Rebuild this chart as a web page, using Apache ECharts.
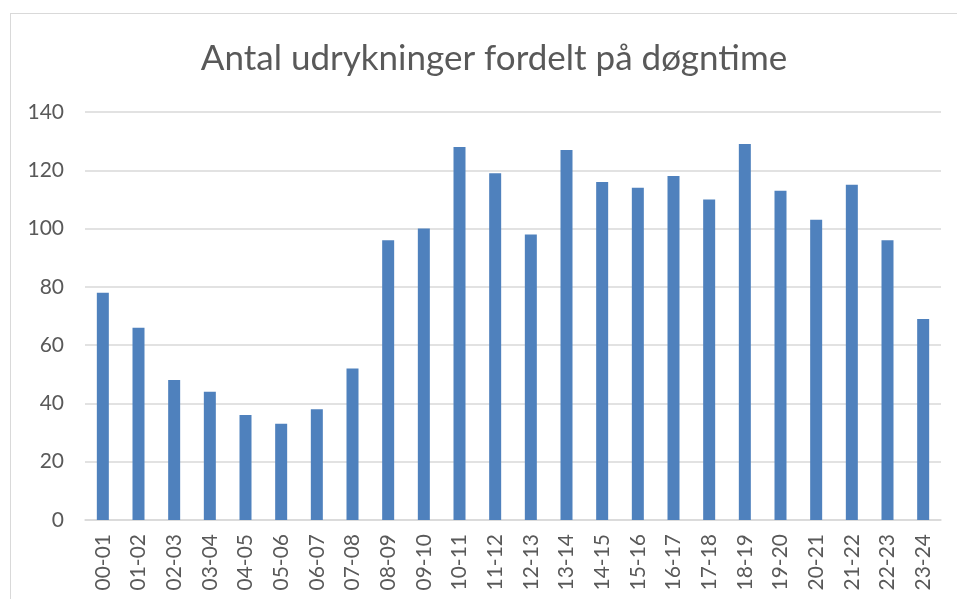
<!DOCTYPE html>
<html>
<head>
<meta charset="utf-8">
<script src="https://cdn.jsdelivr.net/npm/echarts@6/dist/echarts.min.js"></script>
<style>
  html, body { margin: 0; padding: 0; background: #fff; }
  #frame {
    position: absolute; left: 10px; top: 13px; width: 980px; height: 620px;
    border-left: 1.5px solid #d9d9d9; border-top: 1.5px solid #d9d9d9;
  }
  #chart { position: absolute; left: 0; top: 0; width: 957px; height: 599px; }
</style>
</head>
<body>
<div id="frame"></div>
<div id="chart"></div>
<script>
const hours = ['00-01', '01-02', '02-03', '03-04', '04-05', '05-06', '06-07', '07-08',
  '08-09', '09-10', '10-11', '11-12', '12-13', '13-14', '14-15', '15-16',
  '16-17', '17-18', '18-19', '19-20', '20-21', '21-22', '22-23', '23-24']
const counts = [78, 66, 48, 44, 36, 33, 38, 52, 96, 100, 128, 119, 98, 127, 116, 114,
  118, 110, 129, 113, 103, 115, 96, 69]

const chart = echarts.init(document.getElementById('chart'))
chart.setOption({
  animation: false,
  title: {
    text: 'Antal udrykninger fordelt på døgntime',
    left: 489,
    textAlign: 'center',
    top: 36,
    textStyle: { fontFamily: 'Lato', fontSize: 35, fontWeight: 'normal', color: '#595959' }
  },
  grid: { left: 85, right: 16, top: 112, bottom: 79 },
  xAxis: {
    type: 'category',
    data: hours,
    axisLine: { lineStyle: { color: '#d9d9d9', width: 1.5 } },
    axisTick: { show: false },
    axisLabel: { rotate: 90, margin: 14, fontFamily: 'Lato', fontSize: 21, color: '#595959' }
  },
  yAxis: {
    type: 'value',
    min: 0,
    max: 140,
    interval: 20,
    axisLine: { show: false },
    axisTick: { show: false },
    splitLine: { lineStyle: { color: '#d9d9d9', width: 1.5 } },
    axisLabel: { margin: 21, fontFamily: 'Lato', fontSize: 21, color: '#595959' }
  },
  series: [{
    type: 'bar',
    data: counts,
    barWidth: 12,
    itemStyle: { color: '#4f81bd' }
  }]
})
</script>
</body>
</html>
